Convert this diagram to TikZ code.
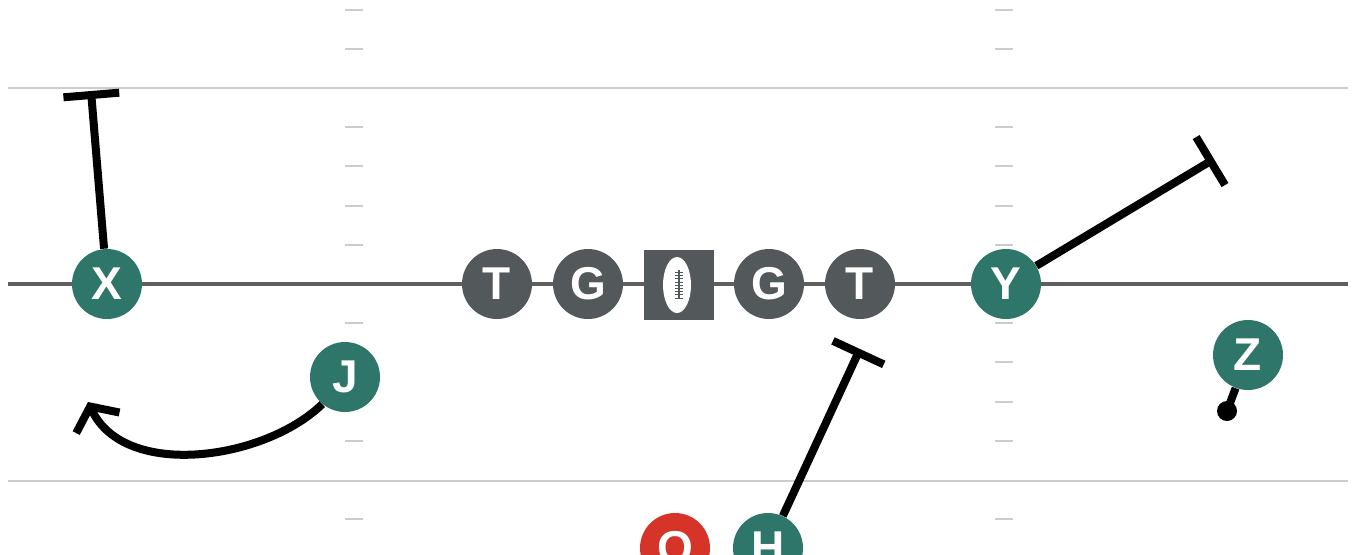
\documentclass[tikz,border=0pt]{standalone}
\usepackage{fontspec}
\newfontfamily\playfont{Liberation Sans}
\usetikzlibrary{arrows.meta}
\definecolor{offense}{RGB}{46,118,106}
\definecolor{linegray}{RGB}{83,88,90}
\definecolor{qbred}{RGB}{214,52,40}
\definecolor{fieldgray}{RGB}{204,204,204}
\definecolor{scrimmage}{RGB}{95,95,95}

\begin{document}
\begin{tikzpicture}[x=0.5pt, y=-0.5pt,
		player/.style={circle, fill=offense, text=white, minimum size=35pt, inner sep=0pt,
			font=\playfont\fontsize{23}{23}\selectfont\bfseries},
		lineman/.style={player, fill=linegray},
		route/.style={line width=4pt, black},
		block/.style={route, -{Bar[width=28pt]}}]
		\useasboundingbox (0,0) rectangle (1368,554);
		\clip (0,0) rectangle (1368,554);

		% Draw field lines
		\draw[fieldgray, line width=1pt] (8,88) -- (1348,88);
		\draw[fieldgray, line width=1pt] (8,481) -- (1348,481);
		\draw[scrimmage, line width=2pt] (8,284) -- (1348,284);

		% Macro for drawing a column of hash marks.
		% Usage: \drawhashes{x}
		\newcommand{\drawhashes}[1]{
			\foreach \k in {-2,-1,1,2,3,4,6,7,8,9,11}
				\draw[fieldgray, line width=1pt] (#1-9,88+39.2*\k) -- (#1+9,88+39.2*\k);
		}
		\drawhashes{354}
		\drawhashes{1004}

		% Offensive line and ball
		\node[lineman] (LT) at (497,284) {T};
		\node[lineman] (LG) at (588,284) {G};
		\node[fill=linegray, minimum size=35pt, inner sep=0pt] (C) at (679,285) {};
		\node[lineman] (RG) at (769,284) {G};
		\node[lineman] (RT) at (860,284) {T};
		\fill[white] (677,285) ellipse (7pt and 14pt);
		\draw[linegray, line width=0.7pt] (679,270) -- (679,299);
		\foreach \t in {0,...,8}
			\draw[linegray, line width=0.5pt] (675,272.5+3.2*\t) -- (683,272.5+3.2*\t);

		% Skill players
		\node[player] (X) at (107,284) {X};
		\node[player] (Y) at (1006,284) {Y};
		\node[player] (J) at (345,377) {J};
		\node[player] (Z) at (1248,355) {Z};
		\node[player, fill=qbred] (O) at (675,548) {O};
		\node[player] (H) at (768,548) {H};

		% Route ends
		\coordinate (Xend) at (91,91);
		\coordinate (Hend) at (860,349);
		\coordinate (Yend) at (1214,159);
		\coordinate (Jend) at (88,402);
		\coordinate (Zend) at (1227,411);

		% Draw the routes
		\draw[block] (X) -- (Xend);
		\draw[block] (H) -- (Hend);
		\draw[block] (Y) -- (Yend);
		\draw[route, -{Straight Barb[length=9pt, width=24pt]}] (J.-130) .. controls (265,460) and (125,480) .. (Jend);
		\draw[route] (Z) -- (Zend);
		\fill (Zend) circle (5pt);
	\end{tikzpicture}
\end{document}
